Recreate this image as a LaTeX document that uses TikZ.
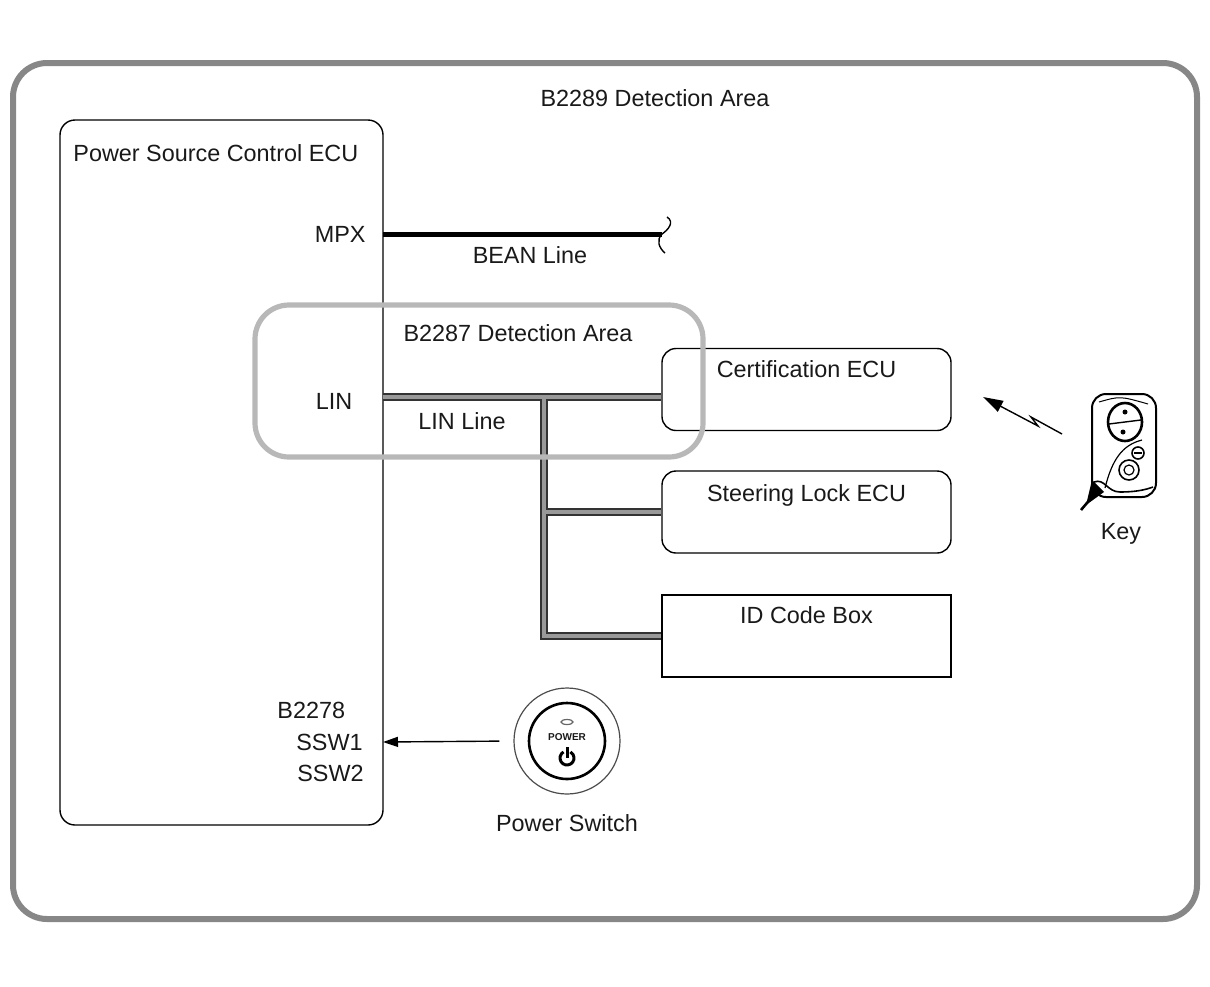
\documentclass[tikz,border=0pt]{standalone}
\usepackage{fontspec}
\setmainfont{Liberation Sans}
\usetikzlibrary{arrows.meta}
\begin{document}
\begin{tikzpicture}[x=0.5pt,y=-0.5pt,
  every node/.style={inner sep=0pt,text=black!90,font=\fontsize{11.7}{14}\selectfont},
  ecubox/.style={draw,line width=0.7pt,rounded corners=7pt,minimum width=144.5pt,minimum height=41pt},
  area/.style={line width=2.6pt,rounded corners=17pt},
  linbus/.style={draw=black!80,line width=1pt,double=black!40,double distance=2pt},
  sigarrow/.style={line width=0.7pt,-{Triangle[length=7.5pt,width=5pt]}}]

\useasboundingbox (0,0) rectangle (1210,986);

\draw[area,black!47,line width=3pt] (13,63) rectangle (1197,919);
\node at (655,98) {B2289 Detection Area};

\node[draw,line width=0.7pt,rounded corners=7.5pt,minimum width=161.5pt,minimum height=352.5pt] (psc) at (221.5,472.5) {};
\node[ecubox] (cert) at (806.5,389.5) {};
\node[ecubox] (steer) at (806.5,512) {};
\node[ecubox,sharp corners] (idbox) at (806.5,636) {};

\coordinate (pmpx) at (383,234);
\coordinate (plin) at (383,397);
\coordinate (pssw) at (383,742);
\coordinate (bus) at (544,397);
\coordinate (beanend) at (662,234);

\draw[line width=2.5pt] (pmpx) -- (beanend);
\draw[line width=0.7pt] (667,217) .. controls (675,222) and (668,230) .. (beanend) .. controls (656,240) and (659,248) .. (665,253);

\draw[linbus] (plin) -- (cert.west |- plin)
  (bus) -- (bus |- idbox.west) -- (idbox.west)
  (bus |- steer.west) -- (steer.west);

\draw[area,black!28] (255,305) rectangle (703,457);

\node[left=8.5pt] at (pmpx) {MPX};
\node at (530,255) {BEAN Line};
\node at (518,333) {B2287 Detection Area};
\node at (334,401) {LIN};
\node at (462,421) {LIN Line};
\node[right] at (73,153) {Power Source Control ECU};
\node[below=6pt] at (cert.north) {Certification ECU};
\node[below=7pt] at (steer.north) {Steering Lock ECU};
\node[below=6pt] at (idbox.north) {ID Code Box};

\node[right] at (277,710) {B2278};
\node[left=10pt] at (pssw) {SSW1};
\node[left] at (364,773) {SSW2};

\node[circle,draw=black!70,line width=0.6pt,minimum size=53pt] (pwr) at (567,741) {};
\draw[line width=1.3pt] (pwr.center) circle (38);
\draw[black!60,line width=0.6pt] (567,722) ellipse (6 and 2.5);
\node[font=\fontsize{5}{5}\selectfont\bfseries] at (567,737) {POWER};
\draw[line width=1.5pt] (567,758) ++(-120:7) arc (-120:-420:7);
\draw[line width=1.5pt] (567,747) -- (567,758);
\node[below=10pt] at (pwr.south) {Power Switch};
\draw[sigarrow,shorten <=7pt] (pwr.west) -- (pssw);

\coordinate (sig) at (1062,434);
\draw[line width=0.7pt,-{Triangle[length=10pt,width=6pt]}] (sig) -- (1031,417) -- (1038,426) -- (983,397);

\draw[line width=1pt,rounded corners=7pt] (1092,394) rectangle (1156,497);
\draw[line width=0.5pt] (1099,402) .. controls (1120,396) .. (1148,404);
\draw[line width=1.3pt] (1125,422) ellipse (17 and 19);
\draw[line width=0.7pt] (1109,424) -- (1141,420);
\fill (1125,412) circle (2.5);
\fill (1123,432) circle (2.5);
\draw[line width=0.8pt] (1138,453) circle (6);
\draw[line width=0.6pt] (1134,453) -- (1142,453);
\draw[line width=0.8pt] (1129,470) circle (10);
\draw[line width=0.6pt] (1129,470) circle (5);
\draw[line width=0.8pt] (1094,482) .. controls (1105,478) and (1107,492) .. (1120,492) .. controls (1135,492) and (1145,490) .. (1153,487);
\draw[line width=0.6pt] (1105,488) .. controls (1112,460) and (1122,445) .. (1142,440);
\fill (1092,480) -- (1104,492) -- (1086,505) -- cycle;
\draw[line width=1.3pt] (1081,510) -- (1092,497);
\node at (1121,534) {Key};

\end{tikzpicture}
\end{document}
